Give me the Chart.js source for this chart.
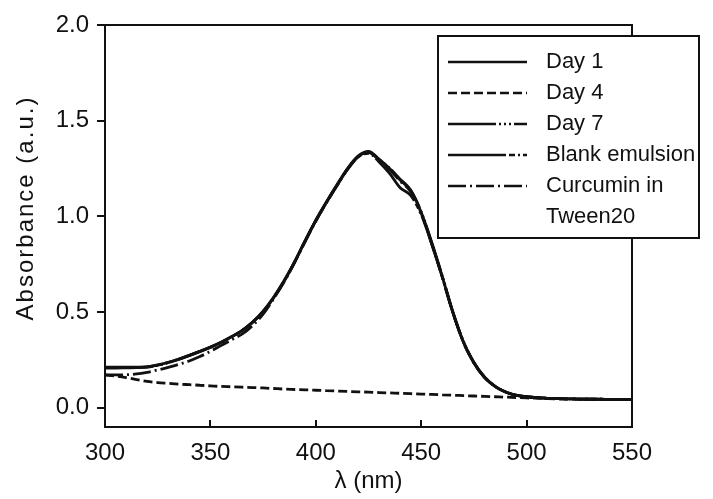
<!DOCTYPE html>
<html>
<head>
<meta charset="utf-8">
<script src="https://cdn.jsdelivr.net/npm/chart.js@4.4.1/dist/chart.umd.min.js"></script>
<style>
  html, body { margin: 0; padding: 0; background: #fff; }
</style>
</head>
<body>
<canvas id="uvChart" width="713" height="499"></canvas>
<script>
// wavelength (nm)
const wavelength = [300,305,310,315,320,325,330,335,340,345,350,355,360,365,370,375,380,385,390,395,
  400,405,410,415,420,425,430,435,440,445,450,455,460,465,470,475,480,485,490,495,
  500,505,510,515,520,525,530,535,540,545,550];

const day1 = [0.212,0.212,0.212,0.212,0.214,0.224,0.238,0.255,0.275,0.296,0.318,0.343,0.372,0.405,0.448,0.505,0.578,0.665,0.765,0.875,
  0.980,1.075,1.165,1.250,1.315,1.340,1.300,1.250,1.190,1.135,1.020,0.860,0.685,0.500,0.345,0.235,0.160,0.112,0.083,0.066,
  0.058,0.053,0.050,0.048,0.047,0.046,0.045,0.045,0.044,0.044,0.044];

const day4 = [0.172,0.166,0.158,0.148,0.138,0.132,0.128,0.124,0.121,0.118,0.115,0.112,0.110,0.108,0.106,0.104,0.101,0.098,0.096,0.094,
  0.092,0.090,0.088,0.086,0.084,0.082,0.080,0.078,0.076,0.074,0.072,0.070,0.068,0.066,0.064,0.062,0.060,0.058,0.056,0.054,
  0.052,0.050,0.048,0.047,0.046,0.045,0.045,0.044,0.044,0.044,0.044];

const day7 = [0.208,0.208,0.209,0.210,0.213,0.222,0.236,0.253,0.273,0.294,0.316,0.341,0.370,0.403,0.446,0.502,0.575,0.662,0.762,0.872,
  0.978,1.072,1.162,1.247,1.312,1.335,1.298,1.252,1.195,1.138,1.024,0.864,0.688,0.503,0.348,0.238,0.162,0.114,0.084,0.067,
  0.058,0.053,0.050,0.048,0.047,0.046,0.045,0.045,0.044,0.044,0.044];

const blankEmulsion = [0.210,0.210,0.210,0.211,0.214,0.223,0.237,0.254,0.274,0.295,0.317,0.342,0.371,0.404,0.447,0.503,0.576,0.663,0.763,0.873,
  0.978,1.072,1.160,1.245,1.310,1.330,1.285,1.225,1.150,1.110,1.010,0.855,0.683,0.498,0.344,0.234,0.160,0.112,0.083,0.066,
  0.058,0.053,0.050,0.048,0.047,0.046,0.045,0.045,0.044,0.044,0.044];

const curcuminTween = [0.172,0.172,0.173,0.177,0.186,0.198,0.212,0.227,0.245,0.268,0.295,0.325,0.355,0.385,0.430,0.490,0.570,0.658,0.760,0.870,
  0.975,1.070,1.160,1.245,1.310,1.335,1.295,1.245,1.185,1.130,1.018,0.858,0.684,0.499,0.344,0.234,0.160,0.112,0.083,0.066,
  0.058,0.053,0.050,0.048,0.047,0.046,0.045,0.045,0.044,0.044,0.044];

const seriesNames = ['Day 1', 'Day 4', 'Day 7', 'Blank emulsion', ['Curcumin in', 'Tween20']];
const xTicks = [300, 350, 400, 450, 500, 550];
const yTicks = [0.0, 0.5, 1.0, 1.5, 2.0];

const INK = '#111';
const FONT = "'Liberation Sans', Arial, sans-serif";

const pts = arr => wavelength.map((w, i) => ({ x: w, y: arr[i] }));

const mkSet = (label, arr, dash) => ({
  label: label,
  data: pts(arr),
  borderColor: INK,
  borderWidth: 2.8,
  borderDash: dash,
  pointRadius: 0,
  fill: false,
  cubicInterpolationMode: 'monotone',
});

// frame, inner x ticks, legend box and axis titles
const decorations = {
  id: 'decorations',
  afterDraw(chart) {
    const { ctx, chartArea: a, scales } = chart;
    ctx.save();
    ctx.strokeStyle = INK;
    ctx.lineWidth = 2;
    ctx.setLineDash([]);
    // top and right frame lines
    ctx.beginPath();
    ctx.moveTo(a.left, a.top);
    ctx.lineTo(a.right, a.top);
    ctx.lineTo(a.right, a.bottom);
    ctx.stroke();
    // x ticks pointing into the plot
    xTicks.slice(1, -1).forEach(v => {
      const px = Math.round(scales.x.getPixelForValue(v));
      ctx.beginPath();
      ctx.moveTo(px, a.bottom);
      ctx.lineTo(px, a.bottom - 7);
      ctx.stroke();
    });

    // legend box
    const bx = 438, by = 36, bw = 261, bh = 202;
    ctx.fillStyle = '#fff';
    ctx.fillRect(bx, by, bw, bh);
    ctx.strokeRect(bx, by, bw, bh);
    ctx.fillStyle = INK;
    ctx.font = '22px ' + FONT;
    ctx.textBaseline = 'middle';
    ctx.textAlign = 'left';
    let row = 0;
    chart.data.datasets.forEach(ds => {
      const y = 62 + row * 31;
      ctx.lineWidth = 2.6;
      ctx.setLineDash(ds.borderDash || []);
      ctx.beginPath();
      ctx.moveTo(448, y);
      ctx.lineTo(527, y);
      ctx.stroke();
      const lines = Array.isArray(ds.label) ? ds.label : [ds.label];
      lines.forEach(t => {
        ctx.fillText(t, 546, 62 + row * 31);
        row++;
      });
    });
    ctx.setLineDash([]);

    // axis titles
    ctx.textAlign = 'center';
    ctx.font = '24px ' + FONT;
    ctx.fillText('λ (nm)', (a.left + a.right) / 2, 481);
    ctx.translate(26, 208);
    ctx.rotate(-Math.PI / 2);
    ctx.letterSpacing = '2px';
    ctx.fillText('Absorbance (a.u.)', 0, 0);
    ctx.restore();
  }
};

new Chart(document.getElementById('uvChart'), {
  type: 'line',
  data: {
    datasets: [
      mkSet(seriesNames[0], day1, []),
      mkSet(seriesNames[1], day4, [9, 4]),
      mkSet(seriesNames[2], day7, [48, 3, 2, 3, 2, 3, 2, 3]),
      mkSet(seriesNames[3], blankEmulsion, [58, 3, 6, 3, 2, 3]),
      mkSet(seriesNames[4], curcuminTween, [18, 4, 2, 4]),
    ],
  },
  options: {
    responsive: false,
    devicePixelRatio: 1,
    animation: false,
    layout: { padding: { left: 0, right: 81, top: 25, bottom: 0 } },
    plugins: {
      legend: { display: false },
      tooltip: { enabled: false },
    },
    scales: {
      x: {
        type: 'linear',
        min: 300,
        max: 550,
        afterBuildTicks: s => { s.ticks = xTicks.map(v => ({ value: v })); },
        afterFit: s => { s.height = 72; },
        ticks: { color: INK, font: { family: FONT, size: 24 }, padding: 4, maxRotation: 0 },
        grid: { display: false },
        border: { display: true, color: INK, width: 2 },
      },
      y: {
        min: -0.1,
        max: 2.0,
        afterBuildTicks: s => { s.ticks = yTicks.map(v => ({ value: v })); },
        afterFit: s => { s.width = 105; },
        ticks: { color: INK, font: { family: FONT, size: 24 }, padding: 8, callback: v => v.toFixed(1) },
        grid: { drawOnChartArea: false, drawTicks: true, tickLength: 8, color: INK, lineWidth: 2 },
        border: { display: true, color: INK, width: 2 },
      },
    },
  },
  plugins: [decorations],
});
</script>
</body>
</html>
